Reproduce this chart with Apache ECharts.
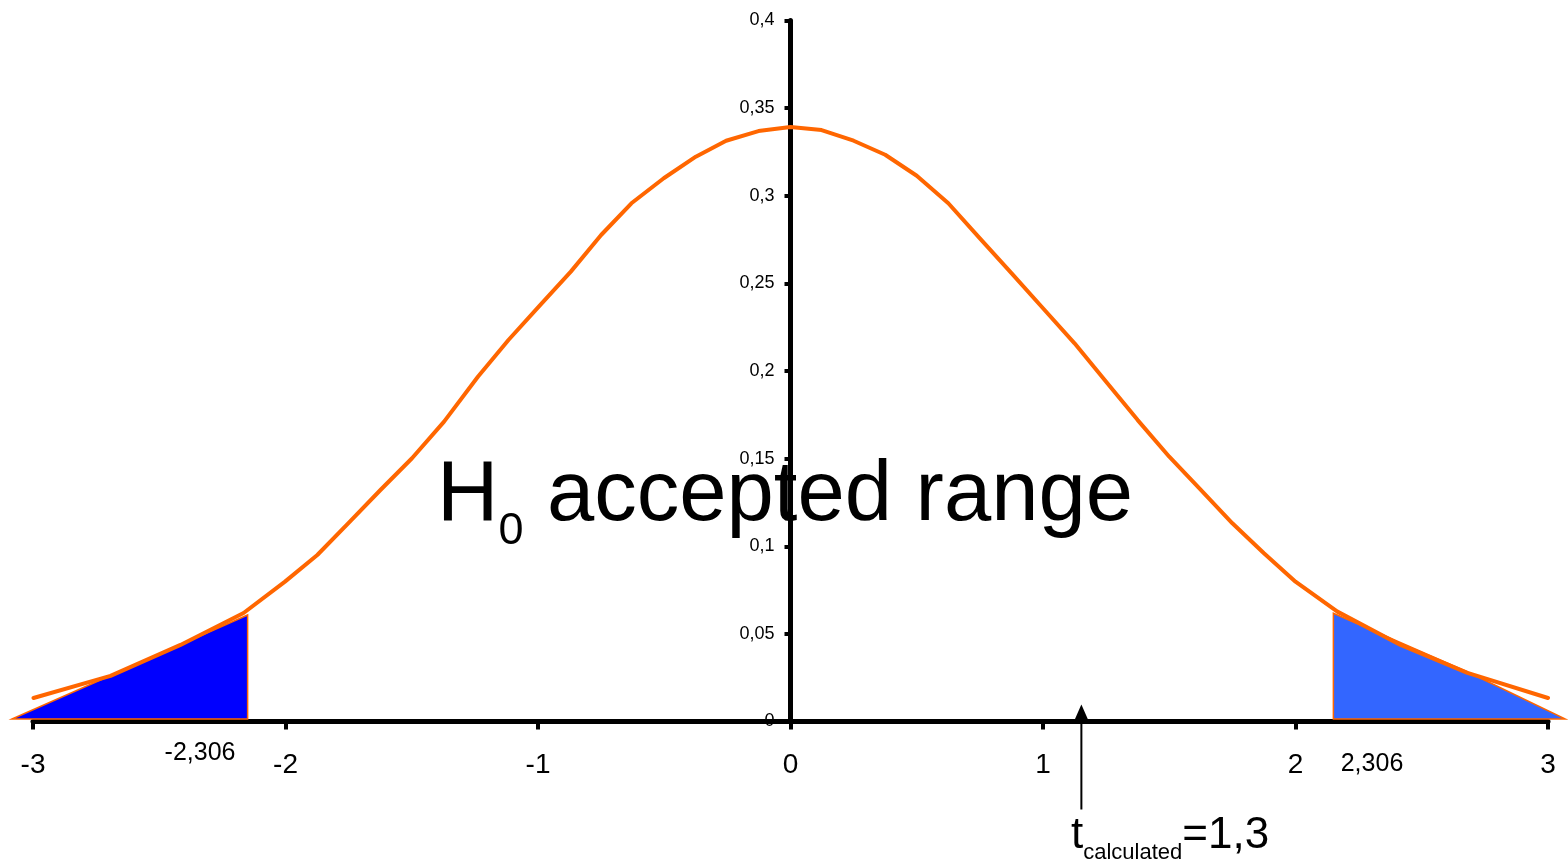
<!DOCTYPE html>
<html><head><meta charset="utf-8">
<script src="https://cdn.jsdelivr.net/npm/echarts@6/dist/echarts.min.js"></script>
<style>html,body{margin:0;padding:0;background:#fff}#c{width:1568px;height:865px}</style>
</head><body><div id="c"></div>
<script>
// ---- data ----
const curveX = [-2.998,-2.693,-2.416,-2.166,-2.002,-1.874,-1.747,-1.624,-1.499,-1.372,-1.238,-1.117,-0.997,-0.870,-0.750,-0.630,-0.502,-0.375,-0.255,-0.127,0,0.123,0.25,0.375,0.5,0.625,0.75,0.875,1.0,1.125,1.25,1.375,1.5,1.625,1.75,1.875,2.0,2.166,2.416,2.681,3.0];
const curveY = [0.0134,0.0260,0.0437,0.0619,0.0798,0.0950,0.1138,0.1321,0.1502,0.1711,0.1967,0.2177,0.2367,0.2567,0.2776,0.2957,0.3100,0.3223,0.3314,0.3369,0.3392,0.3375,0.3314,0.3234,0.3114,0.2957,0.2757,0.2559,0.2358,0.2158,0.1939,0.1720,0.1511,0.1321,0.1131,0.0960,0.0798,0.0627,0.0437,0.0277,0.0134];
const leftRegionX = [-3.083, -2.706, -2.150, -2.150];
const leftRegionY = [0.0014, 0.0254, 0.0608, 0.0014];
const rightRegionX = [2.150, 2.680, 3.069, 2.150];
const rightRegionY = [0.0618, 0.0284, 0.0014, 0.0014];
const xTickLabels = ['-3','-2','-1','0','1','2','3'];
const yTickLabels = ['0','0,05','0,1','0,15','0,2','0,25','0,3','0,35','0,4'];
const tCalcMarker = 1.152;
const criticalLeftLabel = '-2,306';
const criticalRightLabel = '2,306';

const FONT = '"Liberation Sans", Arial, sans-serif';
const GRID_LEFT = 33, GRID_RIGHT = 20;
const chart = echarts.init(document.getElementById('c'), null, {renderer: 'canvas'});

function regionItem(xs, ys, color) {
  return function (params, api) {
    const pts = xs.map((x, i) => api.coord([x, ys[i]]));
    return {
      type: 'polygon',
      shape: { points: pts },
      style: { fill: color, stroke: '#FF6600', lineWidth: 1.5 }
    };
  };
}

// y axis sits at x = 0: offset it from the grid's left edge into the plot
const plotW = 1568 - GRID_LEFT - GRID_RIGHT;
const yAxisOffset = -plotW * (0 - (-3)) / 6;

chart.setOption({
  animation: false,
  backgroundColor: '#ffffff',
  grid: { left: GRID_LEFT, right: GRID_RIGHT, top: 20.5, bottom: 143.5, containLabel: false, outerBoundsMode: 'none' },
  xAxis: {
    type: 'value', min: -3, max: 3, interval: 1,
    axisLine: { show: true, onZero: false, lineStyle: { color: '#000', width: 5 } },
    axisTick: { show: true, length: 8, lineStyle: { color: '#000', width: 4 } },
    axisLabel: { margin: 30, fontSize: 28, color: '#000', fontFamily: FONT,
      formatter: v => xTickLabels[Math.round(v + 3)], showMinLabel: true, showMaxLabel: true },
    splitLine: { show: false }
  },
  yAxis: {
    type: 'value', min: 0, max: 0.4, interval: 0.05, position: 'left', offset: yAxisOffset,
    axisLine: { show: true, onZero: false, lineStyle: { color: '#000', width: 5 } },
    axisTick: { show: true, length: 6, lineStyle: { color: '#000', width: 4 } },
    axisLabel: { margin: 16, fontSize: 18, color: '#000', fontFamily: FONT,
      formatter: v => yTickLabels[Math.round(v / 0.05)], showMinLabel: true, showMaxLabel: true },
    splitLine: { show: false }
  },
  series: [
    { type: 'custom', renderItem: regionItem(leftRegionX, leftRegionY, '#0000FF'),
      data: [[leftRegionX[0], leftRegionY[0]]], clip: false, z: 1, silent: true },
    { type: 'custom', renderItem: regionItem(rightRegionX, rightRegionY, '#3366FF'),
      data: [[rightRegionX[0], rightRegionY[0]]], clip: false, z: 1, silent: true },
    { type: 'line', data: curveX.map((x, i) => [x, curveY[i]]), showSymbol: false, symbol: 'none',
      smooth: false, clip: false, z: 3,
      lineStyle: { color: '#FF6600', width: 4, join: 'round', cap: 'round' } }
  ]
});

// ---- annotations ----
const ctx = document.createElement('canvas').getContext('2d');
function tw(t, size) { ctx.font = size + 'px ' + FONT; return ctx.measureText(t).width; }
function txt(t, x, baseline, size, align) {
  return { type: 'text', x: x, y: baseline - 0.358 * size, z: 10, silent: true,
    style: { text: t, fontSize: size, fontFamily: FONT, fill: '#000', align: align || 'left', verticalAlign: 'middle' } };
}
const g = [];
// H0 accepted range
const hx = 437, hMain = 85, hSub = 45;
g.push(txt('H', hx, 527, hMain));
const x0 = hx + tw('H', hMain);
g.push(txt('0', x0, 548, hSub));
g.push(txt(' accepted range', x0 + tw('0', hSub), 527, hMain));
// critical labels
g.push({ type: 'text', x: 200, y: 753.5, z: 10, silent: true,
  style: { text: criticalLeftLabel, fontSize: 25, fontFamily: FONT, fill: '#000', align: 'center', verticalAlign: 'middle' } });
g.push({ type: 'text', x: 1372, y: 764.5, z: 10, silent: true,
  style: { text: criticalRightLabel, fontSize: 25, fontFamily: FONT, fill: '#000', align: 'center', verticalAlign: 'middle' } });
// arrow
const ap = chart.convertToPixel({ gridIndex: 0 }, [tCalcMarker, 0]);
g.push({ type: 'line', z: 10, silent: true, shape: { x1: ap[0], y1: ap[1] - 2, x2: ap[0], y2: ap[1] + 88 },
  style: { stroke: '#000', lineWidth: 2 } });
g.push({ type: 'polygon', z: 11, silent: true,
  shape: { points: [[ap[0] - 7.5, ap[1]], [ap[0] + 7.5, ap[1]], [ap[0], ap[1] - 17]] }, style: { fill: '#000' } });
// t calculated label
const tx = 1071, tMain = 44, tSub = 22;
g.push(txt('t', tx, 852, tMain));
const cx = tx + tw('t', tMain);
g.push(txt('calculated', cx, 861, tSub));
g.push(txt('=1,3', cx + tw('calculated', tSub), 852, tMain));
chart.setOption({ graphic: g });
</script></body></html>
